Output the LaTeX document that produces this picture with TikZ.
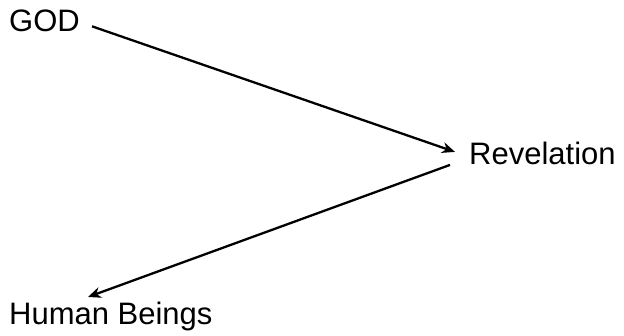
\documentclass[tikz,border=0pt]{standalone}
\usepackage{fontspec}
\setmainfont{Liberation Sans}
\usetikzlibrary{arrows.meta}
\begin{document}
\begin{tikzpicture}[x=1pt,y=1pt,
  lbl/.style={font=\fontsize{31}{36}\selectfont, inner sep=0pt, anchor=base west},
  conn/.style={line width=2.3pt, -{Stealth[length=13pt,width=11pt]}}]
\useasboundingbox (0,0) rectangle (624,336);
\fill[white] (0,0) rectangle (624,336);
\node[lbl] (god) at (9,304) {GOD};
\node[lbl] (rev) at (469,171) {Revelation};
\node[lbl] (hum) at (9,11) {Human Beings};
\coordinate (g1) at ([shift={(12,-5)}]god.east);
\coordinate (r1) at ([shift={(-14,2)}]rev.west);
\coordinate (r2) at ([shift={(-19,-11)}]rev.west);
\coordinate (h1) at ([shift={(79,20)}]hum.west);
\draw[conn] (g1) -- (r1);
\draw[conn] (r2) -- (h1);
\end{tikzpicture}
\end{document}
